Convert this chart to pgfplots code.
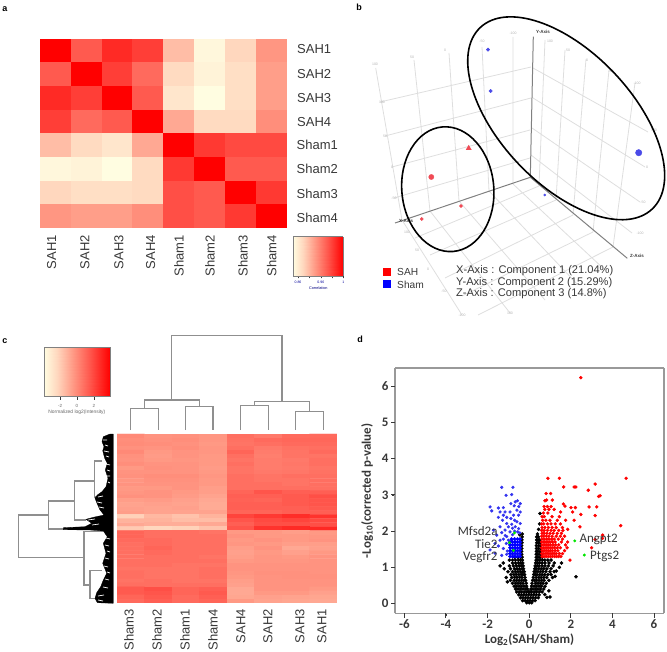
\documentclass[border=0pt]{standalone}
\usepackage{fontspec}
\setmainfont{Liberation Sans}
\newfontfamily\calfont{Carlito}
\usepackage{pgfplots}
\pgfplotsset{compat=1.18}
\definecolor{txt}{HTML}{383838}
\definecolor{grid3d}{HTML}{DEDEDE}
\definecolor{axis3d}{HTML}{808080}
\definecolor{tree}{HTML}{8F8F8F}
\definecolor{ptred}{HTML}{F04A55}
\definecolor{ptblue}{HTML}{4A4AE8}
\newcommand{\fs}[1]{\fontsize{#1}{#1}\selectfont}
\pgfplotsset{
  colormap={hm}{rgb255(0)=(255,253,225) rgb255(20)=(255,215,190) rgb255(45)=(255,150,130) rgb255(70)=(255,85,75) rgb255(100)=(255,0,0)},
  hmbox/.style={scale only axis, anchor=south west, hide axis, colormap name=hm},
  cbar/.style={scale only axis, anchor=south west, colormap name=hm, view={0}{90}, xmin=0, xmax=1, ymin=0, ymax=1,
    ytick=\empty, xtick pos=left, tick align=outside, axis line style={color=gray}, tick style={color=txt, line width=.6pt}},
}
\begin{document}
\begin{tikzpicture}
\path[use as bounding box] (0,0) rectangle (667pt,652pt);

% a: correlation matrix
\begin{axis}[hmbox, at={(40pt,424pt)}, width=247pt, height=189pt, xmin=-.5, xmax=7.5, ymin=-.5, ymax=7.5, y dir=reverse, point meta min=0, point meta max=1]
\addplot[matrix plot*, mesh/cols=8, point meta=explicit] coordinates {
(0,0)[1] (1,0)[.68] (2,0)[.85] (3,0)[.78] (4,0)[.30] (5,0)[.03] (6,0)[.20] (7,0)[.45]
(0,1)[.68] (1,1)[1] (2,1)[.78] (3,1)[.62] (4,1)[.18] (5,1)[.05] (6,1)[.16] (7,1)[.42]
(0,2)[.85] (1,2)[.78] (2,2)[1] (3,2)[.68] (4,2)[.12] (5,2)[0] (6,2)[.16] (7,2)[.42]
(0,3)[.78] (1,3)[.62] (2,3)[.68] (3,3)[1] (4,3)[.38] (5,3)[.18] (6,3)[.18] (7,3)[.48]
(0,4)[.30] (1,4)[.18] (2,4)[.12] (3,4)[.38] (4,4)[1] (5,4)[.80] (6,4)[.74] (7,4)[.74]
(0,5)[.03] (1,5)[.05] (2,5)[0] (3,5)[.18] (4,5)[.80] (5,5)[1] (6,5)[.68] (7,5)[.68]
(0,6)[.20] (1,6)[.16] (2,6)[.16] (3,6)[.18] (4,6)[.72] (5,6)[.68] (6,6)[1] (7,6)[.80]
(0,7)[.45] (1,7)[.42] (2,7)[.42] (3,7)[.48] (4,7)[.72] (5,7)[.68] (6,7)[.80] (7,7)[1]
};
\end{axis}
\begin{axis}[cbar, at={(293.3pt,376pt)}, width=50pt, height=39.3pt,
  xtick={.094,.31,.55,.77,1}, xticklabels={0.86,,0.96,,1},
  xticklabel style={font=\fs{3.5}, color=blue!60!black, yshift=1pt},
  major tick length=2.5pt, xlabel={Correlation}, xlabel style={font=\fs{3.8}, color=blue!50!black, yshift=4pt}]
\addplot3[surf, shader=interp, point meta=x] coordinates {(0,0,0) (1,0,0)

(0,1,0) (1,1,0)};
\end{axis}

% c: intensity heat map, one row per gene block
\begin{axis}[hmbox, at={(117pt,49pt)}, width=220pt, height=169pt, xmin=-.5, xmax=7.5, ymin=-.5, ymax=41.5, y dir=reverse, point meta min=0, point meta max=1]
\addplot[matrix plot*, mesh/cols=8, point meta=\thisrow{c}] table {
x y c
0 0 .50
1 0 .46
2 0 .47
3 0 .45
4 0 .60
5 0 .56
6 0 .62
7 0 .62
0 1 .48
1 1 .47
2 1 .48
3 1 .45
4 1 .59
5 1 .62
6 1 .63
7 1 .63
0 2 .49
1 2 .48
2 2 .47
3 2 .44
4 2 .58
5 2 .60
6 2 .62
7 2 .62
0 3 .47
1 3 .46
2 3 .48
3 3 .45
4 3 .60
5 3 .56
6 3 .59
7 3 .60
0 4 .50
1 4 .44
2 4 .46
3 4 .45
4 4 .64
5 4 .55
6 4 .58
7 4 .62
0 5 .47
1 5 .43
2 5 .46
3 5 .44
4 5 .60
5 5 .54
6 5 .58
7 5 .58
0 6 .46
1 6 .44
2 6 .45
3 6 .44
4 6 .58
5 6 .55
6 6 .56
7 6 .60
0 7 .48
1 7 .46
2 7 .46
3 7 .44
4 7 .60
5 7 .55
6 7 .57
7 7 .60
0 8 .44
1 8 .47
2 8 .46
3 8 .43
4 8 .58
5 8 .55
6 8 .56
7 8 .58
0 9 .46
1 9 .46
2 9 .46
3 9 .44
4 9 .58
5 9 .56
6 9 .57
7 9 .59
0 10 .47
1 10 .48
2 10 .48
3 10 .45
4 10 .60
5 10 .58
6 10 .60
7 10 .60
0 11 .45
1 11 .47
2 11 .47
3 11 .44
4 11 .60
5 11 .58
6 11 .58
7 11 .60
0 12 .46
1 12 .46
2 12 .46
3 12 .44
4 12 .60
5 12 .60
6 12 .58
7 12 .60
0 13 .44
1 13 .44
2 13 .46
3 13 .42
4 13 .60
5 13 .60
6 13 .60
7 13 .60
0 14 .45
1 14 .46
2 14 .44
3 14 .42
4 14 .64
5 14 .70
6 14 .66
7 14 .66
0 15 .47
1 15 .46
2 15 .43
3 15 .40
4 15 .66
5 15 .66
6 15 .68
7 15 .72
0 16 .42
1 16 .43
2 16 .41
3 16 .38
4 16 .65
5 16 .64
6 16 .68
7 16 .70
0 17 .40
1 17 .41
2 17 .40
3 17 .37
4 17 .66
5 17 .66
6 17 .68
7 17 .70
0 18 .41
1 18 .40
2 18 .41
3 18 .37
4 18 .66
5 18 .66
6 18 .66
7 18 .68
0 19 .42
1 19 .40
2 19 .40
3 19 .40
4 19 .64
5 19 .64
6 19 .66
7 19 .66
0 20 .22
1 20 .32
2 20 .28
3 20 .34
4 20 .76
5 20 .80
6 20 .84
7 20 .82
0 21 .34
1 21 .34
2 21 .30
3 21 .30
4 21 .70
5 21 .74
6 21 .76
7 21 .74
0 22 .38
1 22 .36
2 22 .36
3 22 .38
4 22 .66
5 22 .72
6 22 .72
7 22 .72
0 23 .25
1 23 .20
2 23 .22
3 23 .28
4 23 .70
5 23 .82
6 23 .85
7 23 .86
0 24 .64
1 24 .60
2 24 .60
3 24 .58
4 24 .44
5 24 .44
6 24 .42
7 24 .44
0 25 .64
1 25 .60
2 25 .60
3 25 .60
4 25 .46
5 25 .44
6 25 .44
7 25 .45
0 26 .62
1 26 .62
2 26 .60
3 26 .60
4 26 .44
5 26 .46
6 26 .44
7 26 .46
0 27 .60
1 27 .62
2 27 .60
3 27 .60
4 27 .45
5 27 .44
6 27 .42
7 27 .42
0 28 .60
1 28 .64
2 28 .60
3 28 .60
4 28 .42
5 28 .46
6 28 .38
7 28 .41
0 29 .60
1 29 .62
2 29 .60
3 29 .60
4 29 .41
5 29 .44
6 29 .41
7 29 .44
0 30 .60
1 30 .60
2 30 .60
3 30 .58
4 30 .42
5 30 .45
6 30 .44
7 30 .46
0 31 .60
1 31 .60
2 31 .60
3 31 .60
4 31 .44
5 31 .45
6 31 .45
7 31 .46
0 32 .60
1 32 .60
2 32 .58
3 32 .58
4 32 .46
5 32 .46
6 32 .46
7 32 .46
0 33 .58
1 33 .58
2 33 .58
3 33 .60
4 33 .46
5 33 .46
6 33 .46
7 33 .46
0 34 .60
1 34 .58
2 34 .58
3 34 .60
4 34 .45
5 34 .47
6 34 .47
7 34 .46
0 35 .60
1 35 .58
2 35 .58
3 35 .60
4 35 .44
5 35 .46
6 35 .47
7 35 .47
0 36 .58
1 36 .60
2 36 .58
3 36 .58
4 36 .42
5 36 .46
6 36 .46
7 36 .46
0 37 .60
1 37 .60
2 37 .60
3 37 .60
4 37 .41
5 37 .46
6 37 .46
7 37 .46
0 38 .68
1 38 .72
2 38 .64
3 38 .66
4 38 .38
5 38 .46
6 38 .46
7 38 .44
0 39 .68
1 39 .70
2 39 .64
3 39 .68
4 39 .38
5 39 .44
6 39 .44
7 39 .41
0 40 .64
1 40 .68
2 40 .62
3 40 .66
4 40 .39
5 40 .41
6 40 .40
7 40 .39
0 41 .62
1 41 .66
2 41 .62
3 41 .64
4 41 .44
5 41 .40
6 41 .39
7 41 .38
};
\end{axis}
\begin{axis}[cbar, at={(44pt,255.3pt)}, width=65.7pt, height=49.4pt,
  xtick={.244,.5,.758}, xticklabels={-2,0,2},
  xticklabel style={font=\fs{4.5}, color=gray!80!black, yshift=-1pt},
  major tick length=3pt, xlabel={Normalized log2(Intensity)}, xlabel style={font=\fs{4.9}, color=gray!80!black, yshift=4.5pt}]
\addplot3[surf, shader=interp, point meta=x] coordinates {(0,0,0) (1,0,0)

(0,1,0) (1,1,0)};
\end{axis}

% d: volcano plot
\begin{axis}[scale only axis, anchor=south west, at={(395pt,38.7pt)}, width=269pt, height=245pt,
  xmin=-6.45, xmax=6.48, ymin=-.27, ymax=6.5,
  xtick={-6,-4,-2,0,2,4,6}, ytick={0,1,2,3,4,5,6},
  tick align=outside, xtick pos=left, ytick pos=left, major tick length=3pt,
  axis line style={color=gray!80, line width=1pt}, tick style={color=txt, line width=.7pt},
  /pgf/number format/assume math mode=true,
  ticklabel style={font=\calfont\bfseries\fs{13}, color=txt},
  xlabel={Log\textsubscript{2}(SAH/Sham)}, ylabel={-Log\textsubscript{10}(corrected p-value)},
  label style={font=\calfont\bfseries\fs{13}, color=txt},
  xlabel style={yshift=2pt}, ylabel style={yshift=2pt}]
\addplot[only marks, mark=*, mark size=1.6pt, color=black] coordinates {
(-.12,.02) (0,.02) (.12,.02)
(-.32,.08) (-.2,.08) (-.08,.08) (.04,.08) (.16,.08) (.28,.08)
(-.42,.16) (-.3,.16) (-.18,.16) (-.06,.16) (.06,.16) (.18,.16) (.3,.16) (.44,.16)
(-.5,.24) (-.38,.24) (-.26,.24) (-.14,.24) (-.02,.24) (.1,.24) (.22,.24) (.34,.24) (.48,.24)
(-.6,.32) (-.48,.32) (-.36,.32) (-.24,.32) (-.12,.32) (-.03,.32) (.03,.32) (.12,.32) (.24,.32) (.36,.32) (.48,.32) (.62,.32)
(-.66,.4) (-.54,.4) (-.42,.4) (-.3,.4) (-.18,.4) (-.08,.4) (.08,.4) (.18,.4) (.3,.4) (.42,.4) (.54,.4) (.7,.4)
(-.72,.48) (-.6,.48) (-.48,.48) (-.36,.48) (-.24,.48) (-.12,.48) (.12,.48) (.24,.48) (.36,.48) (.48,.48) (.6,.48) (.76,.48)
(-.8,.56) (-.66,.56) (-.54,.56) (-.42,.56) (-.3,.56) (-.14,.56) (.14,.56) (.3,.56) (.42,.56) (.54,.56) (.66,.56) (.82,.56)
(-.9,.64) (-.72,.64) (-.6,.64) (-.48,.64) (-.36,.64) (-.26,.64) (-.17,.64) (.17,.64) (.26,.64) (.36,.64) (.48,.64) (.6,.64) (.72,.64) (.95,.64)
(-1.1,.72) (-.84,.72) (-.7,.72) (-.58,.72) (-.46,.72) (-.34,.72) (-.2,.72) (.2,.72) (.34,.72) (.46,.72) (.58,.72) (.7,.72) (.84,.72) (1.12,.72)
(-.88,.8) (-.74,.8) (-.62,.8) (-.5,.8) (-.38,.8) (-.3,.8) (-.22,.8) (.22,.8) (.3,.8) (.38,.8) (.5,.8) (.62,.8) (.74,.8) (.9,.8) (1.05,.8)
(-1.02,.88) (-.8,.88) (-.66,.88) (-.54,.88) (-.42,.88) (-.32,.88) (-.24,.88) (.24,.88) (.32,.88) (.42,.88) (.54,.88) (.66,.88) (.8,.88) (1,.88) (1.2,.88)
(-1.2,.96) (-.9,.96) (-.7,.96) (-.58,.96) (-.46,.96) (-.34,.96) (-.27,.96) (.27,.96) (.34,.96) (.46,.96) (.58,.96) (.7,.96) (.85,.96) (1.05,.96)
(-1.4,1.04) (-.95,1.04) (-.76,1.04) (-.62,1.04) (-.48,1.04) (-.38,1.04) (-.29,1.04) (.29,1.04) (.38,1.04) (.48,1.04) (.62,1.04) (.76,1.04) (.92,1.04) (1.15,1.04)
(-1.25,1.12) (-.8,1.12) (-.66,1.12) (-.52,1.12) (-.4,1.12) (-.31,1.12) (.31,1.12) (.4,1.12) (.5,1.12) (.62,1.12) (.76,1.12) (.95,1.12) (1.2,1.12)
(-.95,1.2) (-.8,1.2) (-.66,1.2) (-.52,1.2) (-.42,1.2) (-.33,1.2) (.33,1.2) (.42,1.2) (.52,1.2) (.64,1.2) (.75,1.2) (.9,1.2) (1.05,1.2)
(-.7,1.28) (-.55,1.28) (-.42,1.28) (-.34,1.28) (.34,1.28) (.42,1.28) (.52,1.28) (.62,1.28)
(-.36,1.36) (.34,1.36) (.42,1.36) (.52,1.36) (.58,1.36)
(-.36,1.44) (.35,1.44) (.42,1.44) (.52,1.44) (.58,1.44)
(-.36,1.52) (.35,1.52) (.45,1.52) (.55,1.52)
(-.36,1.6) (.35,1.6) (.45,1.6) (.55,1.6)
(-.35,1.68) (.36,1.68) (.44,1.68) (.52,1.68)
(-.35,1.76) (.36,1.76) (.42,1.76) (.5,1.76)
(-.34,1.84) (.36,1.84) (.44,1.84)
(-.33,1.92) (.4,1.92) (.45,2.05) (.5,2.2) (.52,2.49) (-.45,1.9)
(2.25,.74) (1,.18) (.85,.17) (1.3,.9) (1.45,1) (1.25,.75) (1.55,1.12) (-1.05,.6) (.95,.35) (.75,.25)
};
\addplot[only marks, mark=*, mark size=1.7pt, color=blue] coordinates {
(-.92,1.3) (-.8,1.3) (-.68,1.3) (-.56,1.3) (-.44,1.3)
(-.92,1.38) (-.8,1.38) (-.68,1.38) (-.56,1.38) (-.44,1.38)
(-.92,1.46) (-.8,1.46) (-.68,1.46) (-.56,1.46) (-.44,1.46)
(-.92,1.54) (-.8,1.54) (-.68,1.54) (-.56,1.54) (-.44,1.54)
(-.92,1.62) (-.8,1.62) (-.68,1.62) (-.56,1.62) (-.44,1.62)
(-.92,1.7) (-.8,1.7) (-.68,1.7) (-.56,1.7) (-.44,1.7)
(-.85,1.78) (-.7,1.78) (-.56,1.78) (-.44,1.78)
};
\addplot[only marks, mark=*, mark size=1.4pt, color=ptblue!70!blue] coordinates {
(-1.32,3.21) (-.78,3.21) (-.84,3.01) (-1.11,2.99) (-.56,2.84) (-.67,2.81) (-.88,2.76) (-.43,2.76) (-.72,2.7) (-.5,2.68)
(-1.88,2.67) (-1.8,2.56) (-1.48,2.64) (-1.24,2.65) (-1.4,2.53) (-1.16,2.53) (-.92,2.53) (-.59,2.58) (-.43,2.53)
(-.51,2.44) (-1.24,2.44) (-1.48,2.38) (-.75,2.44) (-1.08,2.38) (-.88,2.35) (-1.28,2.3) (-.59,2.26) (-.43,2.21) (-.7,2.3)
(-1.08,2.21) (-.84,2.19) (-1.4,2.12) (-.67,2.12) (-.51,2.07) (-1.72,2.03) (-1.16,2.03) (-.92,1.98) (-1.32,1.96) (-1,2.12) (-.8,2.08)
(-.55,1.98) (-.7,2.0) (-.45,1.95) (-1.56,1.89) (-1.08,1.85) (-.8,1.9) (-1.24,1.78) (-1.4,1.75) (-1.64,1.66) (-1.1,1.66) (-1.48,1.59)
(-1.88,1.48) (-1.24,1.52) (-1.05,1.45) (-1.64,1.39) (-1.08,1.36) (-1.32,1.33) (-1.15,1.88) (-1,1.75)
};
\addplot[only marks, mark=*, mark size=1.5pt, color=red] coordinates {
(2.48,6.24) (.9,3.46) (1.45,3.46) (4.66,3.46) (1.66,3.22) (2.16,3.22) (2.24,3.22) (3.17,3.3) (2.84,3.13) (.81,3.04) (1.03,3.04)
(3.41,2.98) (3.34,2.96) (1.11,2.86) (.84,2.86) (.76,2.84) (1.64,2.75) (1.72,2.69) (2.88,2.67) (3.25,2.67) (2.01,2.65) (2.22,2.65)
(1.51,2.53) (2.09,2.53) (3.17,2.43) (2.48,2.46) (2.16,2.3) (4.4,2.15) (2.44,2.12) (3.53,1.89) (3.52,1.8) (3,1.54) (3.17,1.77) (1.96,1.2)
(.62,1.3) (.72,1.3) (.82,1.3) (.92,1.3) (1.02,1.3) (1.12,1.3) (1.22,1.3) (1.32,1.3) (1.42,1.3) (1.52,1.3)
(.6,1.38) (.7,1.38) (.8,1.38) (.9,1.38) (1,1.38) (1.1,1.38) (1.2,1.38) (1.3,1.38) (1.45,1.38) (1.6,1.38)
(.62,1.46) (.72,1.46) (.82,1.46) (.92,1.46) (1.02,1.46) (1.12,1.46) (1.25,1.46) (1.38,1.46) (1.7,1.46)
(.6,1.54) (.7,1.54) (.8,1.54) (.9,1.54) (1,1.54) (1.1,1.54) (1.22,1.54) (1.35,1.54) (1.5,1.54) (1.82,1.54)
(.62,1.62) (.72,1.62) (.82,1.62) (.92,1.62) (1.02,1.62) (1.15,1.62) (1.28,1.62) (1.42,1.62) (1.75,1.62)
(.6,1.7) (.7,1.7) (.8,1.7) (.9,1.7) (1,1.7) (1.12,1.7) (1.25,1.7) (1.55,1.7) (1.85,1.7)
(.62,1.78) (.72,1.78) (.85,1.78) (.95,1.78) (1.08,1.78) (1.2,1.78) (1.4,1.78) (1.6,1.78)
(.6,1.86) (.7,1.86) (.82,1.86) (.95,1.86) (1.1,1.86) (1.3,1.86) (1.5,1.86) (1.7,1.86)
(.62,1.94) (.72,1.94) (.85,1.94) (1,1.94) (1.15,1.94) (1.35,1.94) (1.55,1.94)
(.6,2.02) (.72,2.02) (.88,2.02) (1.05,2.02) (1.2,2.02) (1.42,2.02) (1.62,2.02)
(.62,2.1) (.75,2.1) (.92,2.1) (1.1,2.1) (1.3,2.1) (1.6,2.1) (1.85,2.05)
(.6,2.2) (.7,2.2) (.88,2.2) (1.05,2.2) (1.25,2.2) (1.5,2.2)
(.65,2.3) (.8,2.3) (1,2.3) (1.35,2.3) (1.75,2.3)
(.62,2.4) (.72,2.4) (1.1,2.4) (1.45,2.4)
(.68,2.5) (.9,2.5) (.75,2.6) (.95,2.6) (1.2,2.6) (.72,2.68) (.88,2.68) (1.05,2.68)
};
\addplot[only marks, mark=*, mark size=1.3pt, color=green!90!black] coordinates {
(-.71,1.95) (-.95,1.68) (-.76,1.47) (2.19,1.73) (2.65,1.34)
};
\end{axis}

% panel b, trees, legends and text, all in picture pixels
\begin{axis}[scale only axis, anchor=south west, at={(0pt,0pt)}, width=667pt, height=652pt, xmin=0, xmax=667, ymin=0, ymax=652, y dir=reverse, hide axis, clip=false, unbounded coords=jump]
% frame and ticks of d, one side at a time
\addplot[color=gray!80, line width=1.3pt] coordinates {(395,368) (664,368)};
\addplot[color=gray!80, line width=1.3pt] coordinates {(664,368) (664,613.3)};
\addplot[color=gray!80, line width=1.3pt] coordinates {(664,613.3) (395,613.3)};
\addplot[color=gray!80, line width=1.3pt] coordinates {(395,613.3) (395,368)};
\addplot[color=txt, line width=1pt] coordinates {
(404.3,613.3) (404.3,617.5) (nan,nan) (445.9,613.3) (445.9,617.5) (nan,nan) (487.5,613.3) (487.5,617.5) (nan,nan) (529.2,613.3) (529.2,617.5) (nan,nan)
(570.8,613.3) (570.8,617.5) (nan,nan) (612.4,613.3) (612.4,617.5) (nan,nan) (654,613.3) (654,617.5) (nan,nan)
(395,603.3) (391,603.3) (nan,nan) (395,567.1) (391,567.1) (nan,nan) (395,531) (391,531) (nan,nan) (395,494.8) (391,494.8) (nan,nan)
(395,458.6) (391,458.6) (nan,nan) (395,422.5) (391,422.5) (nan,nan) (395,386.3) (391,386.3)
};
% 3d grid
\addplot[color=grid3d, line width=.8pt] coordinates {
(375.7,68) (402,220) (nan,nan) (414,60) (430,211) (nan,nan) (449,53) (459,201) (nan,nan) (482,47) (489,191) (nan,nan) (513,37) (513,184) (nan,nan)
(380,102) (531,67) (nan,nan) (385,136) (531,98) (nan,nan) (392,167) (530,130) (nan,nan) (394,198) (530,158) (nan,nan)
(545,40) (539,186) (nan,nan) (565,50) (556,200) (nan,nan) (586,59) (573,215) (nan,nan) (609,70) (593,232) (nan,nan) (635,83) (613,247) (nan,nan)
(533,68) (648,132) (nan,nan) (533,98) (645,167) (nan,nan) (532,128) (640,202) (nan,nan) (531,155) (632,233) (nan,nan)
(402,220) (462,315) (nan,nan) (430,211) (510,313) (nan,nan) (459,201) (545,300) (nan,nan) (489,191) (578,285) (nan,nan) (513,184) (605,270) (nan,nan)
(539,186) (415,238) (nan,nan) (556,200) (430,255) (nan,nan) (573,215) (445,278) (nan,nan) (593,232) (462,296) (nan,nan) (613,247) (478,315)
};
\addplot[color=axis3d, line width=1pt] coordinates {(533.3,36.7) (530.3,177.3) (395,223) (nan,nan) (530.3,177.3) (627.3,258.3)};
\addplot[only marks, mark=*, mark size=1.6pt, color=ptred] coordinates {(421.7,219) (461,206)};
\addplot[only marks, mark=*, mark size=2.6pt, color=ptred] coordinates {(431.3,177)};
\addplot[only marks, mark=triangle*, mark size=3pt, color=ptred] coordinates {(468.7,148.3)};
\addplot[only marks, mark=*, mark size=1.7pt, color=ptblue] coordinates {(488,49.7) (490.7,91)};
\addplot[only marks, mark=*, mark size=3.2pt, color=ptblue] coordinates {(638.7,152.7)};
\addplot[only marks, mark=*, mark size=1.1pt, color=ptblue] coordinates {(544.7,195)};
\addplot[only marks, mark=square*, mark size=3.6pt, color=red] coordinates {(387,271.7)};
\addplot[only marks, mark=square*, mark size=3.6pt, color=blue] coordinates {(387,284)};
% column tree of c
\addplot[color=tree, line width=1.1pt] coordinates {
(130.3,430) (130.3,408.3) (158.3,408.3) (158.3,430) (nan,nan)
(185.3,430) (185.3,406.7) (213,406.7) (213,430) (nan,nan)
(144.3,408.3) (144.3,400) (199.3,400) (199.3,406.7) (nan,nan)
(240.7,430) (240.7,405.3) (268.3,405.3) (268.3,430) (nan,nan)
(295.7,430) (295.7,411.3) (323.3,411.3) (323.3,430) (nan,nan)
(254.3,405.3) (254.3,401.7) (309.3,401.7) (309.3,411.3) (nan,nan)
(171.7,400) (171.7,335.7) (282,335.7) (282,401.7)
};
% row tree of c
\addplot[color=tree, line width=1.1pt] coordinates {
(48.3,515) (18.3,515) (18.3,557.7) (84,557.7) (nan,nan)
(74.3,501) (48.3,501) (48.3,529) (64,529) (nan,nan)
(94.3,481) (74.3,481) (74.3,520) (86,520) (nan,nan)
(102,461) (94.3,461) (94.3,497) (98,497) (nan,nan)
(103.3,531.7) (84,531.7) (84,585) (90,585) (nan,nan)
(101.7,570.7) (90,570.7) (90,598.3) (96,598.3)
};
\addplot[fill=black, draw=black, line width=.3pt] coordinates {
(110,434) (103.3,436.7) (102,441.7) (104,446.7) (102.7,450.7) (104.7,458.3) (107.3,463.3) (105.3,470) (108,478.3) (106,486.7)
(102,491.7) (97.3,495) (95,498.3) (97.3,504) (100,510) (104,515) (93.3,517.3) (86,519.3) (91.7,523.3) (85,526.7) (63.3,527.7)
(63.3,529.7) (90,530) (103.3,531) (107.3,536.7) (103.3,543.3) (106,553.3) (102.7,563.3) (106.7,573.3) (103.3,580) (100.7,586.7)
(96.7,592.7) (95,598.3) (97.3,602.7) (113.3,603.3) (113.3,434)
} -- cycle;
% gaps between the leaves of the row tree
\addplot[color=white, line width=.7pt] coordinates {
(103,440) (107,440) (nan,nan) (105,445) (108,446) (nan,nan) (104,451) (109,452) (nan,nan) (106,456) (109,457) (nan,nan)
(106,464) (110,465) (nan,nan) (107,470) (110,471) (nan,nan) (107,476) (110,476) (nan,nan) (108,482) (110,483) (nan,nan)
(98,497) (103,496) (nan,nan) (97,502) (102,503) (nan,nan) (99,507) (104,508) (nan,nan) (88,520) (95,519) (nan,nan) (92,525) (99,524) (nan,nan)
(106,538) (110,539) (nan,nan) (105,545) (109,546) (nan,nan) (107,551) (110,552) (nan,nan) (105,558) (109,559) (nan,nan) (104,566) (108,567) (nan,nan)
(107,572) (110,573) (nan,nan) (105,579) (109,580) (nan,nan) (103,587) (108,588) (nan,nan) (98,596) (104,595) (nan,nan) (98,600) (103,601)
};

% panel letters
\node[font=\bfseries\fs{9}] at (axis cs:5,9) {a};
\node[font=\bfseries\fs{9}] at (axis cs:359,7) {b};
\node[font=\bfseries\fs{9}] at (axis cs:5,341) {c};
\node[font=\bfseries\fs{9}] at (axis cs:360,339) {d};

% labels of a
\begin{scope}[every node/.style={font=\fs{13}, text=txt, inner sep=0pt}]
\node[anchor=west] at (axis cs:297,49.3) {SAH1};
\node[anchor=west] at (axis cs:297,73.7) {SAH2};
\node[anchor=west] at (axis cs:297,98.3) {SAH3};
\node[anchor=west] at (axis cs:297,121.7) {SAH4};
\node[anchor=west] at (axis cs:296.5,145) {Sham1};
\node[anchor=west] at (axis cs:296.5,169.3) {Sham2};
\node[anchor=west] at (axis cs:296.5,194) {Sham3};
\node[anchor=west] at (axis cs:296.5,218) {Sham4};
\node[rotate=90, anchor=east] at (axis cs:51.7,235) {SAH1};
\node[rotate=90, anchor=east] at (axis cs:85,235) {SAH2};
\node[rotate=90, anchor=east] at (axis cs:119,235) {SAH3};
\node[rotate=90, anchor=east] at (axis cs:150.7,235) {SAH4};
\node[rotate=90, anchor=east] at (axis cs:179,235) {Sham1};
\node[rotate=90, anchor=east] at (axis cs:210,235) {Sham2};
\node[rotate=90, anchor=east] at (axis cs:243,235) {Sham3};
\node[rotate=90, anchor=east] at (axis cs:271.7,235) {Sham4};
% labels of c
\node[rotate=90, anchor=east] at (axis cs:129,609) {Sham3};
\node[rotate=90, anchor=east] at (axis cs:157,609) {Sham2};
\node[rotate=90, anchor=east] at (axis cs:185,609) {Sham1};
\node[rotate=90, anchor=east] at (axis cs:213,609) {Sham4};
\node[rotate=90, anchor=east] at (axis cs:241,609) {SAH4};
\node[rotate=90, anchor=east] at (axis cs:268,609) {SAH2};
\node[rotate=90, anchor=east] at (axis cs:300,609) {SAH3};
\node[rotate=90, anchor=east] at (axis cs:322,609) {SAH1};
\end{scope}

% labels of b
\node[font=\bfseries\fs{4.5}, text=txt] at (axis cs:543,32) {Y-Axis};
\node[font=\bfseries\fs{4.5}, text=txt] at (axis cs:406,221) {X-Axis};
\node[font=\bfseries\fs{4.5}, text=txt] at (axis cs:637,256) {Z-Axis};
\begin{scope}[every node/.style={font=\fs{3.5}, text=black!30, inner sep=0pt}]
\node at (axis cs:375,64) {100};
\node at (axis cs:412,57) {50};
\node at (axis cs:445,50) {0};
\node at (axis cs:482,41) {-50};
\node at (axis cs:513,33) {-100};
\node at (axis cs:382,102) {100};
\node at (axis cs:385,136) {50};
\node at (axis cs:392,167) {0};
\node at (axis cs:394,198) {-50};
\node at (axis cs:550,41) {100};
\node at (axis cs:568,50) {50};
\node at (axis cs:587,60) {0};
\node at (axis cs:611,71) {-50};
\node at (axis cs:637,83) {-100};
\node at (axis cs:654,130) {100};
\node at (axis cs:647,167) {0};
\node at (axis cs:643,202) {-50};
\node at (axis cs:640,233) {-100};
\node at (axis cs:407,232) {100};
\node at (axis cs:417,250) {50};
\node at (axis cs:428,269) {0};
\node at (axis cs:444,291) {-50};
\node at (axis cs:462,315) {-100};
\node at (axis cs:510,313) {100};
\end{scope}
\begin{scope}[every node/.style={text=txt, inner sep=0pt, anchor=west}]
\node[font=\fs{10.2}] at (axis cs:397,272) {SAH};
\node[font=\fs{10.2}] at (axis cs:397,285) {Sham};
\node[font=\fs{11.1}] at (axis cs:456,271) {X-Axis : Component 1 (21.04\%)};
\node[font=\fs{11.1}] at (axis cs:456,282.3) {Y-Axis : Component 2 (15.29\%)};
\node[font=\fs{11.1}] at (axis cs:456,294) {Z-Axis : Component 3 (14.8\%)};
\end{scope}

% gene names of d
\begin{scope}[every node/.style={font=\calfont\fs{13}, text=txt, inner sep=0pt}]
\node[anchor=east] at (axis cs:497.7,531.3) {Mfsd2a};
\node[anchor=east] at (axis cs:497.7,544) {Tie2};
\node[anchor=east] at (axis cs:497.7,557.3) {Vegfr2};
\node[anchor=west] at (axis cs:579.3,539) {Angpt2};
\node[anchor=west] at (axis cs:590,556) {Ptgs2};
\end{scope}
\end{axis}

% group rings of b
\draw[line width=1.6pt] (566.2pt,533.7pt) ellipse [x radius=125pt, y radius=66pt, rotate=-46.5];
\draw[line width=1.6pt] (447.8pt,462.8pt) ellipse [x radius=46pt, y radius=62.5pt, rotate=5];
\end{tikzpicture}
\end{document}
